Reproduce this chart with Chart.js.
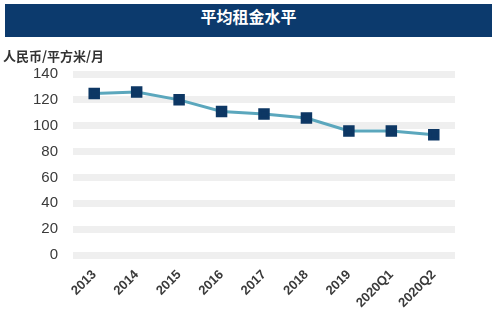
<!DOCTYPE html>
<html>
<head>
<meta charset="utf-8">
<script src="https://cdn.jsdelivr.net/npm/chart.js@4"></script>
<style>
  body { margin: 0; background: #fff; }
  #wrap { position: relative; width: 498px; height: 324px; }
  #banner {
    position: absolute; left: 5px; top: 4px; width: 487px; height: 33px;
    background: #0c3a6d; color: #fff; text-align: center; line-height: 33px;
    font: bold 16px "Noto Sans CJK SC", sans-serif;
  }
  #unit {
    position: absolute; left: 3px; top: 46px;
    font: bold 13px "Noto Sans CJK SC", sans-serif; color: #333;
  }
  canvas { position: absolute; left: 0; top: 0; }
</style>
</head>
<body>
<div id="wrap">
  <canvas id="rentChart" width="498" height="324"></canvas>
  <div id="banner">平均租金水平</div>
  <div id="unit">人民币/平方米/月</div>
</div>
<script>
const periods = ["2013", "2014", "2015", "2016", "2017", "2018", "2019", "2020Q1", "2020Q2"];
const rentValues = [125, 126, 120, 111, 109, 106, 96, 96, 93];
const yTicks = [0, 20, 40, 60, 80, 100, 120, 140];

const ctx = document.getElementById('rentChart').getContext('2d');
new Chart(ctx, {
  type: 'line',
  data: {
    labels: periods,
    datasets: [
      {
        label: '平均租金水平',
        data: rentValues,
        borderColor: '#5ba7bd',
        borderWidth: 3,
        backgroundColor: '#0d3764',
        pointStyle: 'rect',
        pointRadius: 6,
        pointBorderColor: '#0d3764',
        pointBackgroundColor: '#0d3764',
        tension: 0
      }
    ]
  },
  options: {
    responsive: false,
    animation: false,
    layout: { padding: { top: 74, right: 43, left: 0, bottom: 0 } },
    plugins: {
      legend: { display: false },
      tooltip: { enabled: false }
    },
    scales: {
      x: {
        offset: true,
        grid: { display: false },
        border: { display: false },
        ticks: {
          minRotation: 45,
          maxRotation: 45,
          padding: 4,
          color: '#3a3a3a',
          font: { family: 'Liberation Sans', size: 13, weight: 'bold' }
        },
        afterFit: (scale) => { scale.height = 69; }
      },
      y: {
        min: 0,
        max: 140,
        afterBuildTicks: (scale) => { scale.ticks = yTicks.map(v => ({ value: v })); },
        grid: { color: '#efefef', lineWidth: 7, drawTicks: false },
        border: { display: false },
        ticks: {
          padding: 15,
          color: '#3a3a3a',
          font: { family: 'Liberation Sans', size: 15 }
        },
        afterFit: (scale) => { scale.width = 73; }
      }
    }
  }
});
</script>
</body>
</html>
